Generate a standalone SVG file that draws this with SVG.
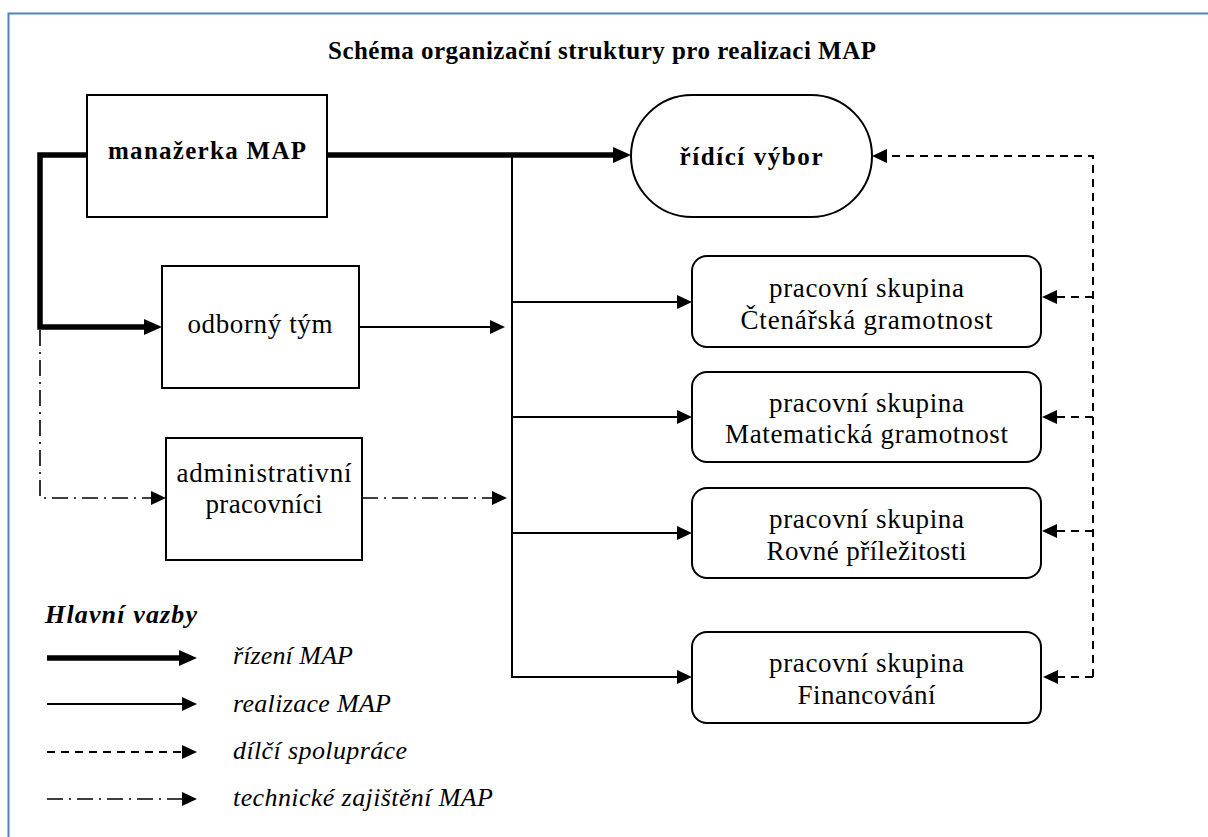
<svg xmlns="http://www.w3.org/2000/svg" width="1208" height="837" viewBox="0 0 1208 837">
<style>
.t{font-family:"Liberation Serif","Times New Roman",serif;font-size:27px;fill:#000;text-anchor:middle}
.b{font-weight:bold;font-size:25px}
.i{font-style:italic;font-size:26px;text-anchor:start}
.box{fill:#fff;stroke:#000;stroke-width:2}
.ln{fill:none;stroke:#000}
.thick{stroke-width:5.5}
.thin{stroke-width:2}
.dash{stroke-width:2;stroke-dasharray:8 6}
.dd{stroke-width:1.6;stroke-dasharray:16 6 2 6}
</style>
<defs>
<marker id="ah" markerUnits="userSpaceOnUse" markerWidth="18" markerHeight="16" refX="8" refY="8" orient="auto"><path d="M0,0 L18,8 L0,16 z" fill="#000"/></marker>
<marker id="a" markerUnits="userSpaceOnUse" markerWidth="15" markerHeight="14" refX="5" refY="7" orient="auto"><path d="M0,0 L15,7 L0,14 z" fill="#000"/></marker>
</defs>
<rect width="1208" height="837" fill="#fff"/>
<path d="M8.5,850 V13.5 H1220" fill="none" stroke="#4F81BD" stroke-width="2"/>
<text class="t b" x="602" y="59" font-size="26" textLength="548">Schéma organizační struktury pro realizaci MAP</text>

<g id="connectors">
<path class="ln thick" d="M327,155 H621" marker-end="url(#ah)"/>
<path class="ln thick" d="M87,155 H40 V327 H152" marker-end="url(#ah)"/>
<path class="ln dd" d="M40,330 V498 H156" marker-end="url(#a)"/>
<path class="ln thin" d="M359,327 H495" marker-end="url(#a)"/>
<path class="ln dd" d="M362,498 H497" marker-end="url(#a)"/>
<path class="ln thin" d="M512,155 V677 H682" marker-end="url(#a)"/>
<path class="ln thin" d="M512,302 H682" marker-end="url(#a)"/>
<path class="ln thin" d="M512,417 H682" marker-end="url(#a)"/>
<path class="ln thin" d="M512,533 H682" marker-end="url(#a)"/>
<path class="ln dash" d="M1093,677 V156 H882" marker-end="url(#a)"/>
<path class="ln dash" d="M1093,297 H1052" marker-end="url(#a)"/>
<path class="ln dash" d="M1093,417 H1052" marker-end="url(#a)"/>
<path class="ln dash" d="M1093,531 H1052" marker-end="url(#a)"/>
<path class="ln dash" d="M1093,677 H1053" marker-end="url(#a)"/>
</g>

<g id="manazerka">
<rect class="box" x="87" y="95" width="240" height="122"/>
<text class="t b" x="207" y="159" textLength="198">manažerka MAP</text>
</g>
<g id="ridici-vybor">
<rect class="box" x="631" y="95" width="241" height="122" rx="61" ry="61"/>
<text class="t b" x="751" y="165" font-size="26" textLength="143">řídící výbor</text>
</g>
<g id="odborny-tym">
<rect class="box" x="162" y="266" width="197" height="122"/>
<text class="t" x="260" y="333" textLength="145">odborný tým</text>
</g>
<g id="administrativni">
<rect class="box" x="166" y="438" width="196" height="122"/>
<text class="t" x="264" y="482" textLength="175">administrativní</text>
<text class="t" x="264" y="513" textLength="117">pracovníci</text>
</g>
<g id="ps-ctenarska">
<rect class="box" x="692" y="256" width="349" height="91" rx="15"/>
<text class="t" x="866.5" y="297" textLength="195">pracovní skupina</text>
<text class="t" x="866.5" y="329" textLength="252">Čtenářská gramotnost</text>
</g>
<g id="ps-matematicka">
<rect class="box" x="692" y="372" width="349" height="90" rx="15"/>
<text class="t" x="866.5" y="412" textLength="195">pracovní skupina</text>
<text class="t" x="866.5" y="443" textLength="283">Matematická gramotnost</text>
</g>
<g id="ps-rovne">
<rect class="box" x="692" y="488" width="349" height="90" rx="15"/>
<text class="t" x="866.5" y="528" textLength="195">pracovní skupina</text>
<text class="t" x="866.5" y="560" textLength="200">Rovné příležitosti</text>
</g>
<g id="ps-financovani">
<rect class="box" x="692" y="632" width="349" height="91" rx="15"/>
<text class="t" x="866.5" y="672" textLength="195">pracovní skupina</text>
<text class="t" x="866.5" y="704" textLength="138">Financování</text>
</g>

<g id="legend">
<text class="t b i" x="45" y="623" font-size="26" textLength="152">Hlavní vazby</text>
<path class="ln thick" d="M47,658 H187" marker-end="url(#ah)"/>
<path class="ln thin" d="M47,704 H187" marker-end="url(#a)"/>
<path class="ln dash" d="M47,752 H187" marker-end="url(#a)"/>
<path class="ln dd" d="M47,799 H187" marker-end="url(#a)"/>
<text class="t i" x="233" y="664" textLength="120">řízení MAP</text>
<text class="t i" x="233" y="712" textLength="158">realizace MAP</text>
<text class="t i" x="233" y="759" textLength="174">dílčí spolupráce</text>
<text class="t i" x="233" y="806" textLength="260">technické zajištění MAP</text>
</g>
</svg>
